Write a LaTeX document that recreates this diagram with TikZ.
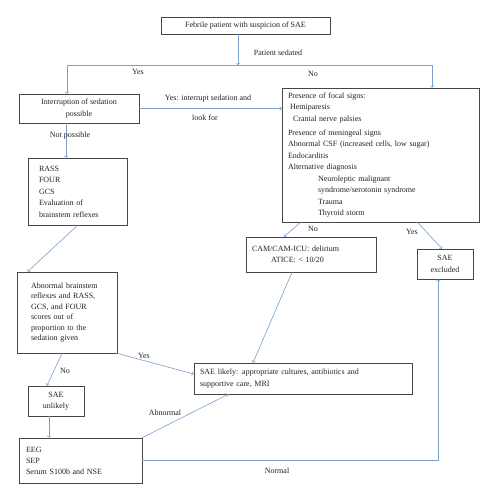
\documentclass[tikz,border=0pt]{standalone}
\usepackage{fontspec}
\setmainfont{Liberation Serif}
\usepackage{tikz}
\definecolor{arrowblue}{RGB}{122,160,204}
\definecolor{boxgray}{RGB}{70,70,70}
\definecolor{textgray}{RGB}{35,35,35}

\begin{document}
\begin{tikzpicture}[x = 1pt, y = -1pt,
    box/.style = {shape = rectangle, draw = boxgray, line width = 0.7pt, text = textgray, inner sep = 0pt, font = \fontsize{8}{11.5}\selectfont},
    arr/.style = {draw = arrowblue, line width = 0.6pt, ->},
    lbl/.style = {text = textgray, inner sep = 0pt, font = \fontsize{8}{11.5}\selectfont}]
    \useasboundingbox[fill = white] (0,0) rectangle (496,500);
    \node[box, minimum width = 169pt, minimum height = 17pt] (top) at (245.5,25.5) {Febrile patient with suspicion of SAE};
    \node[box, minimum width = 120pt, minimum height = 29pt, align = center] (interrupt) at (79,108.5) {Interruption of sedation\\possible};
    \node[box, minimum width = 197pt, minimum height = 134pt, text width = 185pt, align = left] (focal) at (380.5,155)
        {Presence of focal signs:\\
         \hspace*{2pt}Hemiparesis\\
         \hspace*{5pt}Cranial nerve palsies\\[2.5pt]
         Presence of meningeal signs\\
         Abnormal CSF (increased cells, low sugar)\\
         Endocarditis\\
         Alternative diagnosis\\
         \hspace*{30pt}Neuroleptic malignant\\
         \hspace*{30pt}syndrome/serotonin syndrome\\
         \hspace*{30pt}Trauma\\
         \hspace*{30pt}Thyroid storm};
    \node[box, minimum width = 99pt, minimum height = 67pt, text width = 77pt, align = left] (rass) at (77.5,191.5)
        {RASS\\FOUR\\GCS\\Evaluation of\\brainstem reflexes};
    \node[box, minimum width = 100pt, minimum height = 81pt, text width = 72pt, align = left, font = \fontsize{8}{10.5}\selectfont] (abn) at (67,312.5)
        {Abnormal brainstem\\reflexes and RASS,\\GCS, and FOUR\\scores out of\\proportion to the\\sedation given};
    \node[box, minimum width = 56pt, minimum height = 30pt, align = center] (unlikely) at (56,401) {SAE\\unlikely};
    \node[box, minimum width = 123pt, minimum height = 45pt, text width = 109pt, align = left, font = \fontsize{8}{11}\selectfont] (eeg) at (80.5,460.5)
        {EEG\\SEP\\Serum S100b and NSE};
    \node[box, minimum width = 218pt, minimum height = 31pt, text width = 206pt, align = left] (likely) at (303,378.5)
        {SAE likely: appropriate cultures, antibiotics and\\supportive care, MRI};
    \node[box, minimum width = 130pt, minimum height = 35pt, text width = 118pt, align = left] (cam) at (311,254.5)
        {CAM/CAM-ICU: delirium\\\hspace*{19pt}ATICE: < 10/20};
    \node[box, minimum width = 56pt, minimum height = 30pt, align = center] (excluded) at (445,264) {SAE\\excluded};

    \coordinate (split) at (238,65);
    \coordinate (splitL) at (67,65);
    \coordinate (splitR) at (432,65);
    \draw[arr] (top.south -| split) -- (split);
    \draw[arr] (split) -- (splitL) -- (splitL |- interrupt.north);
    \draw[arr] (split) -- (splitR) -- (splitR |- focal.north);
    \draw[arr] (interrupt.east) -- (interrupt.east -| focal.west);
    \draw[arr] ([xshift = -13pt]interrupt.south) -- ([xshift = -13pt]interrupt.south |- rass.north);
    \draw[arr] (rass.south) -- ([xshift = 11pt]abn.north west);
    \draw[arr] (abn.south east) -- ([yshift = 4.5pt]likely.west);
    \draw[arr] ([xshift = -5pt]abn.south) -- ([xshift = -9pt]unlikely.north);
    \draw[arr] ([xshift = -7pt]unlikely.south) -- ([xshift = -7pt]unlikely.south |- eeg.north);
    \draw[arr] (eeg.north east) -- ([xshift = -75pt]likely.south);
    \draw[arr] (eeg.east) -| ([xshift = -7pt]excluded.south);
    \draw[arr] ([xshift = -80pt]focal.south) -- ([xshift = -27pt]cam.north);
    \draw[arr] ([xshift = 37pt]focal.south) -- ([xshift = -3pt]excluded.north);
    \draw[arr] ([xshift = -19pt]cam.south) -- ([xshift = -50pt]likely.north);

    \node[lbl] (sedated) at (278,53) {Patient sedated};
    \node[lbl] (yesL) at (138,72) {Yes};
    \node[lbl] (noR) at (313,74) {No};
    \node[lbl] (yesInt) at (208,99) {Yes: interrupt sedation and};
    \node[lbl] (lookfor) at (205,118) {look for};
    \node[lbl] (notposs) at (70,136) {Not possible};
    \node[lbl] (yesAbn) at (144,356) {Yes};
    \node[lbl] (noAbn) at (65,371) {No};
    \node[lbl] (abnormal) at (165,413) {Abnormal};
    \node[lbl] (normal) at (277,471) {Normal};
    \node[lbl] (noFocal) at (313,229) {No};
    \node[lbl] (yesFocal) at (412,232) {Yes};
\end{tikzpicture}
\end{document}
